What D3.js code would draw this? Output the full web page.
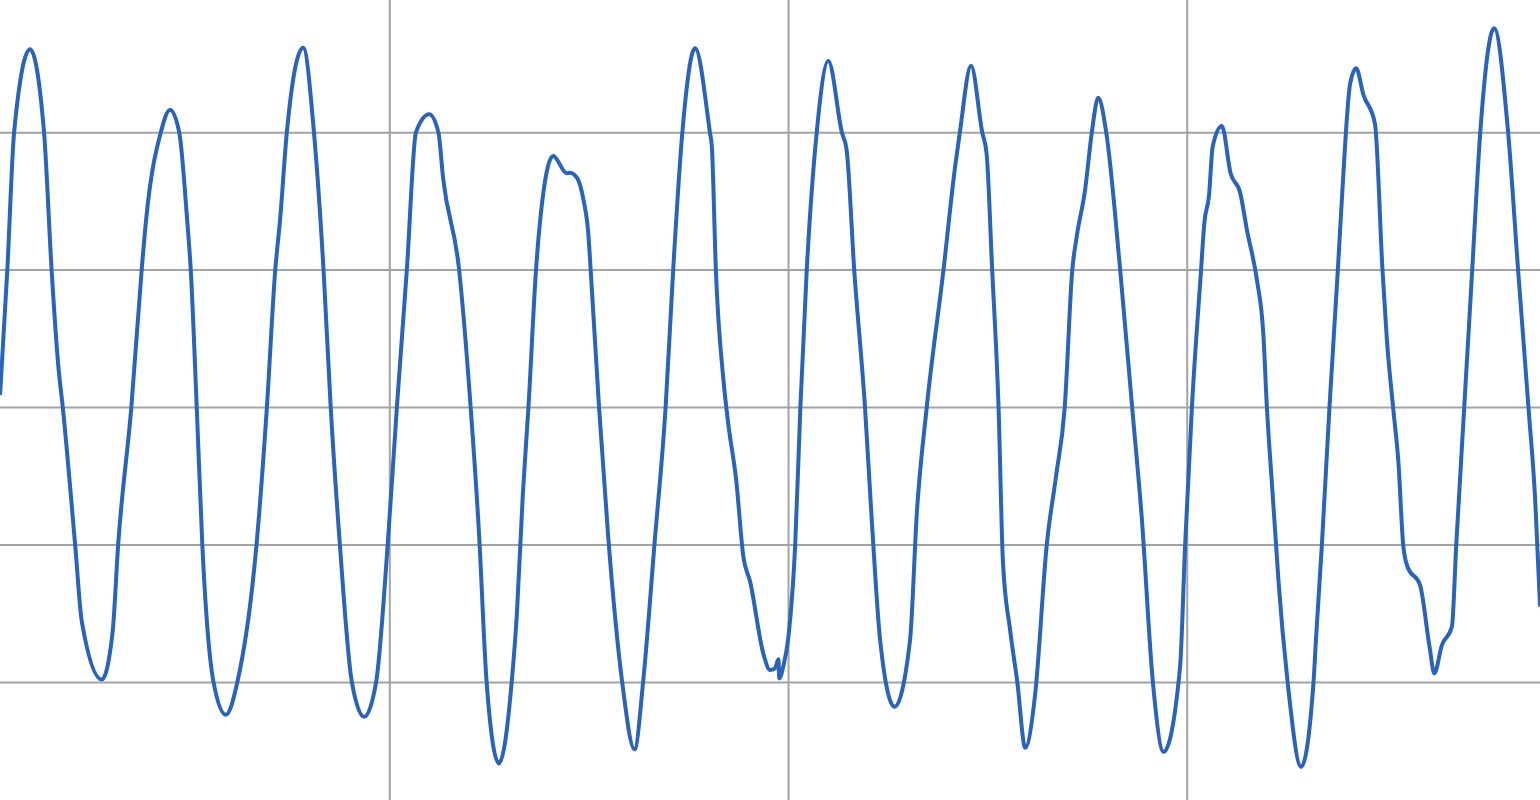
<!DOCTYPE html>
<html>
<head>
<meta charset="utf-8">
<script src="https://cdn.jsdelivr.net/npm/d3@7"></script>
<style>
  html, body { margin: 0; padding: 0; background: #ffffff; overflow: hidden; }
  svg { display: block; }
</style>
</head>
<body>
<svg id="chart" width="1540" height="800"></svg>
<script>
// ---- data (time in s, signal amplitude) ----
const timeValues = [
  0.24, 0.42, 0.59, 0.99, 1.34, 1.53, 1.70, 1.81, 2.12, 2.29,
  2.79, 3.06, 3.20, 3.53, 3.79, 3.90, 4.27, 4.50, 4.73, 4.93,
  5.02, 5.17, 5.31, 5.59, 5.90, 6.19, 6.67, 6.93, 7.14, 7.26,
  7.43, 7.84, 8.11, 8.35, 8.53, 8.76, 9.06, 9.37, 9.67,
  9.96, 10.19, 10.44, 10.67, 11.00, 11.23, 11.35, 11.75, 12.04, 12.25,
  12.44, 12.75, 13.07, 13.20, 13.35, 13.49, 13.68, 13.84, 14.11, 14.45,
  14.53, 14.71, 14.87, 14.99, 15.05, 15.26, 15.49, 15.84, 16.15, 16.37,
  16.65, 16.93, 17.12, 17.35, 17.67, 18.04, 18.09, 18.19, 18.38, 18.50,
  18.70, 18.88, 19.05, 19.38, 19.55, 19.67, 19.76, 19.78, 19.88, 20.01,
  20.18, 20.31, 20.47, 20.72, 21.01, 21.35, 21.47, 21.66, 21.93, 22.10,
  22.31, 22.67, 23.06, 23.23, 23.48, 23.90, 24.19, 24.31, 24.59, 24.87,
  24.98, 25.12, 25.28, 25.39, 25.57, 25.75, 25.95, 26.20, 26.49, 26.72,
  26.94, 27.13, 27.24, 27.45, 27.62, 27.78, 27.98, 28.33, 28.63, 28.87,
  29.15, 29.42, 29.83, 29.96, 30.13, 30.36, 30.44, 30.56, 30.65, 30.88,
  31.10, 31.34, 31.51, 31.76, 31.92, 32.01, 32.13, 32.24, 32.30, 32.53,
  32.87, 33.18, 33.24, 33.39, 33.58, 33.79, 33.89, 34.10, 34.25, 34.43,
  34.72, 34.91, 35.02, 35.18, 35.31, 35.43, 35.54, 35.85, 36.09, 36.21,
  36.40, 36.65, 36.76, 36.96, 37.16, 37.36, 37.71, 38.06, 38.31, 38.57,
  38.74, 38.86
];
const signalValues = [
  0.100, 1.000, 2.000, 2.603, 2.000, 1.000, 0.293, 0.000, -1.000, -1.565,
  -1.983, -1.638, -1.000, 0.000, 1.000, 1.361, 2.000, 2.162, 2.000, 1.361,
  1.000, 0.000, -1.000, -2.000, -2.239, -2.000, -1.000, 0.000, 1.000, 1.361,
  2.000, 2.615, 2.000, 1.000, 0.000, -1.000, -2.000, -2.254, -2.000,
  -1.000, 0.000, 1.000, 2.000, 2.130, 2.000, 1.664, 1.000, 0.000, -0.919,
  -2.000, -2.593, -2.000, -1.501, -0.628, 0.000, 1.000, 1.507, 1.827, 1.701,
  1.705, 1.667, 1.507, 1.266, 1.000, 0.000, -0.944, -2.000, -2.491, -1.987,
  -1.000, 0.000, 1.000, 2.000, 2.611, 2.000, 1.894, 1.000, 0.197, -0.119,
  -0.531, -1.090, -1.271, -1.793, -1.914, -1.902, -1.836, -1.975, -1.890, -1.672,
  -1.000, 0.000, 1.000, 2.000, 2.518, 2.000, 1.870, 1.000, 0.000, -0.822,
  -1.696, -2.181, -1.696, -0.774, 0.000, 1.000, 1.749, 2.000, 2.484, 2.000,
  1.846, 1.000, 0.000, -1.126, -1.623, -2.000, -2.480, -2.084, -1.000, -0.507,
  0.000, 1.000, 1.239, 1.579, 2.000, 2.251, 2.000, 1.000, 0.000, -0.798,
  -2.000, -2.509, -1.900, -1.000, 0.000, 1.000, 1.337, 1.543, 1.894, 2.045,
  1.701, 1.560, 1.288, 0.924, 0.536, 0.000, -0.531, -1.000, -1.259, -2.000,
  -2.618, -2.000, -1.696, -1.000, 0.000, 1.000, 1.507, 2.356, 2.465, 2.274,
  2.063, 0.994, 0.488, -0.015, -0.406, -1.007, -1.164, -1.294, -1.745, -1.938,
  -1.732, -1.599, -1.000, 0.000, 1.000, 1.992, 2.756, 2.000, 1.000, 0.000,
  -0.677, -1.441
];
const xTicks = [10, 20, 30];
const yTicks = [-2, -1, 0, 1, 2];

const points = timeValues.map((t, i) => ({ t, v: signalValues[i] }));

// ---- layout ----
const W = 1540, H = 800;
const svg = d3.select("#chart");

const x = d3.scaleLinear().domain([0.236, 38.86]).range([0, W]);
const y = d3.scaleLinear().domain([-2.8595, 2.962]).range([H, 0]);

svg.append("rect").attr("width", W).attr("height", H).attr("fill", "#ffffff");

// horizontal grid
const gy = svg.append("g").attr("class", "grid-y")
  .call(d3.axisLeft(y).tickValues(yTicks).tickSize(-W).tickFormat(""));
gy.select(".domain").remove();
gy.selectAll("line").attr("stroke", "#a3a3a3").attr("stroke-width", 2);

// vertical grid
const gx = svg.append("g").attr("class", "grid-x").attr("transform", `translate(0,${H})`)
  .call(d3.axisBottom(x).tickValues(xTicks).tickSize(-H).tickFormat(""));
gx.select(".domain").remove();
gx.selectAll("line").attr("stroke", "#a3a3a3").attr("stroke-width", 2);

// signal line
const line = d3.line()
  .x(d => x(d.t))
  .y(d => y(d.v))
  .curve(d3.curveMonotoneX);

svg.append("clipPath").attr("id", "clip")
  .append("rect").attr("width", W).attr("height", H);

svg.append("path")
  .datum(points)
  .attr("clip-path", "url(#clip)")
  .attr("fill", "none")
  .attr("stroke", "#2a63b7")
  .attr("stroke-width", 4)
  .attr("stroke-linejoin", "round")
  .attr("stroke-linecap", "round")
  .attr("d", line);
</script>
</body>
</html>
